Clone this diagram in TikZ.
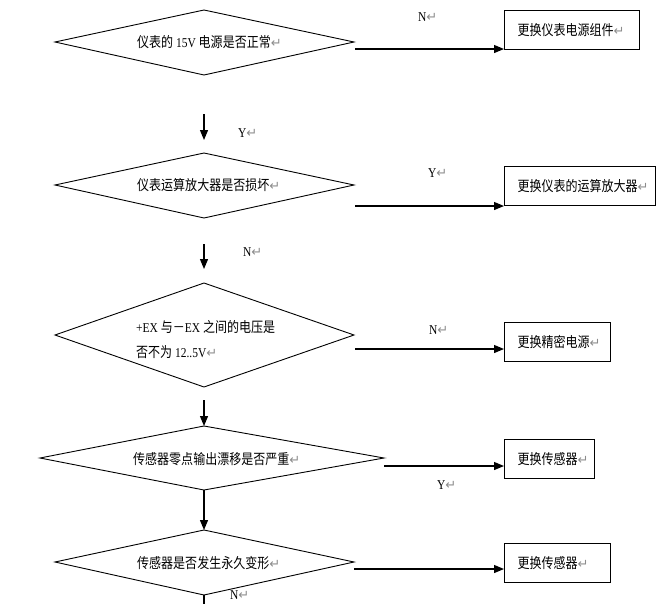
\documentclass[tikz,border=0pt]{standalone}
\usepackage{fontspec}
\setmainfont{Liberation Serif}[FakeStretch=0.85]
\newfontfamily\cjk{Noto Sans CJK SC}[FakeStretch=0.84]
\newfontfamily\symfont{DejaVu Sans}
\usetikzlibrary{arrows.meta}
\definecolor{markgray}{gray}{0.55}
\newcommand\pmk{{\color{markgray}\symfont\fontsize{13}{25}\selectfont ↵}}
\newcommand\zh[1]{{\cjk\fontsize{14.3}{25}\selectfont #1}}
\begin{document}
\begin{tikzpicture}[x=1pt,y=-1pt,
  every node/.style={font=\fontsize{13.5}{25}\selectfont, inner sep=0pt},
  shapeline/.style={line width=0.9pt},
  arr/.style={line width=1.2pt, -{Triangle[length=10pt,width=8pt]}},
  box/.style={draw, line width=1.1pt, anchor=north west, inner xsep=13pt, inner ysep=0pt, minimum height=39pt},
  lbl/.style={anchor=west}]
\useasboundingbox (0,0) rectangle (672,603);
\clip (0,0) rectangle (672,603);

% diamonds
\coordinate (q1l) at (55,42);  \coordinate (q1t) at (204,10);  \coordinate (q1r) at (354,42);  \coordinate (q1b) at (204,75);
\coordinate (q2l) at (55,185); \coordinate (q2t) at (204,153); \coordinate (q2r) at (354,185); \coordinate (q2b) at (204,218);
\coordinate (q3l) at (55,335); \coordinate (q3t) at (204,283); \coordinate (q3r) at (354,335); \coordinate (q3b) at (204,387);
\coordinate (q4l) at (40,458); \coordinate (q4t) at (204,426); \coordinate (q4r) at (384,458); \coordinate (q4b) at (204,490);
\coordinate (q5l) at (55,562); \coordinate (q5t) at (204,530); \coordinate (q5r) at (354,562); \coordinate (q5b) at (204,595);
\foreach \q in {q1,q2,q3,q4,q5}
  \draw[shapeline] (\q l) -- (\q t) -- (\q r) -- (\q b) -- cycle;

\node[anchor=west] (q1) at (137,42) {\zh{仪表的} 15V \zh{电源是否正常}\pmk};
\node[anchor=west] (q2) at (137,185) {\zh{仪表运算放大器是否损坏}\pmk};
\node[anchor=west, align=left] (q3) at (136,339.5) {+EX \zh{与－}EX \zh{之间的电压是}\\\zh{否不为} 12..5V\pmk};
\node[anchor=west] (q4) at (133,459) {\zh{传感器零点输出漂移是否严重}\pmk};
\node[anchor=west] (q5) at (137,563) {\zh{传感器是否发生永久变形}\pmk};

% boxes
\node[box] (b1) at (504,10)  {\makebox[109pt][l]{\zh{更换仪表电源组件}\pmk}};
\node[box] (b2) at (504,166) {\makebox[125pt][l]{\zh{更换仪表的运算放大器}\pmk}};
\node[box] (b3) at (504,322) {\makebox[80pt][l]{\zh{更换精密电源}\pmk}};
\node[box] (b4) at (504,439) {\makebox[64pt][l]{\zh{更换传感器}\pmk}};
\node[box] (b5) at (504,543) {\makebox[80pt][l]{\zh{更换传感器}\pmk}};

% horizontal connectors
\coordinate (h1) at (355,49);
\coordinate (h2) at (355,206);
\coordinate (h3) at (355,349);
\coordinate (h4) at (384,466);
\coordinate (h5) at (354,569);
\draw[arr] (h1) -- (h1 -| b1.west);
\draw[arr] (h2) -- (h2 -| b2.west);
\draw[arr] (h3) -- (h3 -| b3.west);
\draw[arr] (h4) -- (h4 -| b4.west);
\draw[arr] (h5) -- (h5 -| b5.west);

% vertical connectors
\coordinate (v1s) at (204,114); \coordinate (v1e) at (204,140);
\coordinate (v2s) at (204,244); \coordinate (v2e) at (204,269);
\coordinate (v3s) at (204,400);
\coordinate (v5e) at (204,612);
\draw[arr] (v1s) -- (v1e);
\draw[arr] (v2s) -- (v2e);
\draw[arr] (v3s) -- (q4t);
\draw[arr] (q4b) -- (q5t);
\draw[line width=1.2pt] (q5b) -- (v5e);

% labels
\node[lbl] (l1) at (418,17)  {N\pmk};
\node[lbl] (l2) at (238,133) {Y\pmk};
\node[lbl] (l3) at (428,173) {Y\pmk};
\node[lbl] (l4) at (243,252) {N\pmk};
\node[lbl] (l5) at (429,330) {N\pmk};
\node[lbl] (l6) at (437,485) {Y\pmk};
\node[lbl] (l7) at (230,595.5) {N\pmk};
\end{tikzpicture}
\end{document}
